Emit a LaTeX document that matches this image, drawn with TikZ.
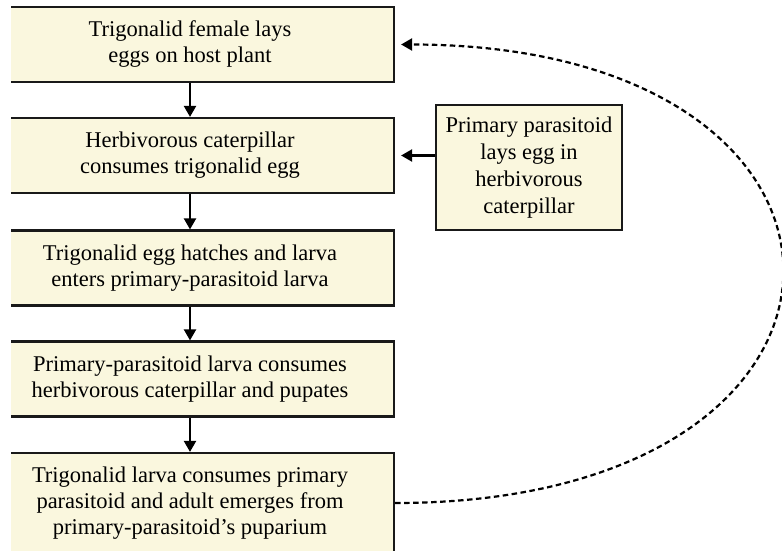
\documentclass[tikz,border=0pt]{standalone}
\usepackage{fontspec}
\setmainfont{Liberation Serif}
\usetikzlibrary{arrows.meta}
\definecolor{boxfill}{RGB}{250,247,222}
\definecolor{boxline}{RGB}{25,25,25}
\tikzset{
  stagebox/.style={draw=boxline, line width=2.2pt, fill=boxfill, minimum width=408pt, minimum height=75pt,
    align=center, inner sep=0pt, font=\fontsize{22.5}{26}\selectfont},
  sidebox/.style={draw=boxline, line width=2.2pt, fill=boxfill, minimum width=186pt, minimum height=125pt,
    align=center, inner sep=0pt, font=\fontsize{22.5}{27}\selectfont},
  flow/.style={line width=2.2pt, draw=black, -{Triangle[length=11pt,width=12pt]}},
  loopback/.style={line width=2.2pt, draw=black, dash pattern=on 5.5pt off 3.5pt, -{Triangle[length=11pt,width=12pt]}, shorten >=6pt}
}
\begin{document}
\begin{tikzpicture}[x=1pt,y=-1pt]
\useasboundingbox (0,0) rectangle (782,551);
\clip (11,0) rectangle (782,551);
\node[stagebox] (b1) at (190,44.5) {Trigonalid female lays\\eggs on host plant};
\node[stagebox] (b2) at (190,155.5) {Herbivorous caterpillar\\consumes trigonalid egg};
\node[stagebox] (b3) at (190,268) {Trigonalid egg hatches and larva\\enters primary-parasitoid larva};
\node[stagebox] (b4) at (190,379) {Primary-parasitoid larva consumes\\herbivorous caterpillar and pupates};
\node[stagebox, minimum height=100pt] (b5) at (190,503) {Trigonalid larva consumes primary\\parasitoid and adult emerges from\\primary-parasitoid’s puparium};
\node[sidebox] (p) at (529,167.5) {Primary parasitoid\\lays egg in\\herbivorous\\caterpillar};
\draw[flow] (b1) -- (b2);
\draw[flow] (b2) -- (b3);
\draw[flow] (b3) -- (b4);
\draw[flow] (b4) -- (b5);
\draw[flow, shorten >=6pt] (p.west |- b2.east) -- (b2.east);
\draw[loopback] (b5.east) .. controls +(515,0) and +(515,0) .. (b1.east);
\end{tikzpicture}
\end{document}
